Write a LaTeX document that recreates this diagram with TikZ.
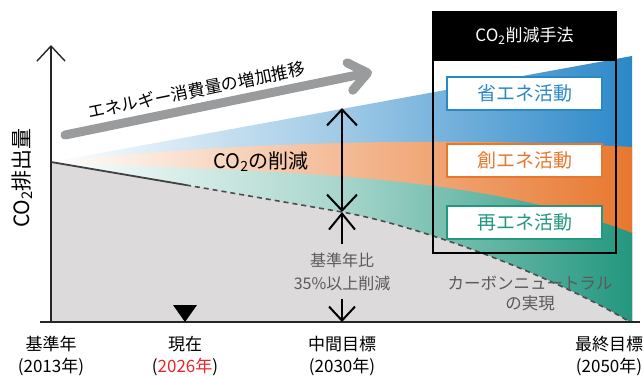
\documentclass[tikz,border=0pt]{standalone}
\usepackage{fontspec}
\setmainfont{Noto Sans CJK JP}
\usetikzlibrary{shapes, arrows.meta, positioning}
\definecolor{savecol}{HTML}{2B88C8}
\definecolor{makecol}{HTML}{E8772E}
\definecolor{renewcol}{HTML}{23977F}
\definecolor{areagray}{HTML}{DCDADB}
\definecolor{notegray}{HTML}{5A5A5A}
\definecolor{arrowgray}{HTML}{9A9B9C}
\definecolor{nowred}{HTML}{E8262B}
\newcommand{\fsz}[2]{\fontsize{#1}{#2}\selectfont}
\newcommand{\cotwo}{CO\textsubscript{2}}
\tikzstyle{axis} = [line width=1.4pt, draw=black!85]
\tikzstyle{yearlabel} = [font=\fsz{17}{22}, align=center, inner sep=0pt]
\tikzstyle{methodbox} = [draw, line width=2pt, fill=white, minimum width=155pt, minimum height=33pt, font=\fsz{19}{22}]
\tikzstyle{reduce} = [line width=2pt, {Straight Barb[length=16pt,width=30pt]}-{Straight Barb[length=16pt,width=30pt]}]
\tikzstyle{graynote} = [text=notegray, font=\fsz{16}{23}, align=center, inner sep=0pt]

\begin{document}
\begin{tikzpicture}[x=1pt, y=-1pt]
	\useasboundingbox (0,0) rectangle (643,376);
	% puntos de la curva
	\coordinate (base) at (51,162);
	\coordinate (now) at (186,185);
	\coordinate (mid) at (342,212);
	\coordinate (goal) at (630,322);
	\coordinate (origin) at (51,322);
	% bandas
	\shade[left color=white, right color=savecol, middle color=savecol!45] (base) -- (632,56) -- (632,322) -- (origin) -- cycle;
	\shade[left color=white, right color=makecol, middle color=makecol!50] (base) .. controls (200,145) and (420,135) .. (632,147) -- (632,322) -- (origin) -- cycle;
	\shade[left color=white, right color=renewcol, middle color=renewcol!40] (base) .. controls (250,172) and (470,170) .. (632,233) -- (632,322) -- (origin) -- cycle;
	% emisiones
	\fill[areagray] (base) -- (now) -- (mid) .. controls (430,228) and (560,280) .. (goal) -- (origin) -- cycle;
	\draw[line width=1.8pt, black!75] (base) -- (now);
	\draw[line width=1.6pt, black!70, dash pattern=on 5pt off 4pt] (now) -- (mid) .. controls (430,228) and (560,280) .. (goal);
	% ejes
	\draw[axis, -{Straight Barb[length=15pt,width=28pt]}] (origin) -- (51,45);
	\draw[axis] (40,322) -- (640,322);
	\node[rotate=90, font=\fsz{21}{24}, inner sep=0pt] (ylabel) at (22,178) {\cotwo 排出量};
	% flecha de energia
	\coordinate (gtail) at (65,135);
	\coordinate (ghead) at (372,72);
	\draw[arrowgray, line width=9pt, line cap=round, -{Straight Barb[length=18pt,width=28pt,round]}] (gtail) -- node[sloped, above=5pt, pos=0.44, text=black, font=\fsz{17}{20}, inner sep=0pt] (trend) {エネルギー消費量の増加推移} (ghead);
	\node[font=\fsz{20}{24}, inner sep=0pt] (cut) at (261,162) {\cotwo の削減};
	% reduccion
	\coordinate (cuttop) at (342,108);
	\draw[reduce] (cuttop) -- (mid);
	\node[graynote, inner ysep=8pt] (ratio) at (342,271.5) {基準年比\\35\%以上削減};
	\draw[line width=2pt, {Straight Barb[length=16pt,width=26pt]}-] (mid) -- (ratio.north);
	\draw[line width=2pt, -{Straight Barb[length=14pt,width=26pt]}] (ratio.south) -- (342,322);
	\node[graynote, font=\fsz{16.5}{20}] (neutral) at (530,293) {カーボンニュートラル\\の実現};
	% marcador
	\fill (173,305) -- (197,305) -- (185,322) -- cycle;
	% años
	\node[yearlabel] (y2013) at (51,356) {基準年\\(2013年)};
	\node[yearlabel] (y2026) at (185,356) {現在\\(\textcolor{nowred}{2026年})};
	\node[yearlabel] (y2030) at (342,356) {中間目標\\(2030年)};
	\node[yearlabel] (y2050) at (609,356) {最終目標\\(2050年)};
	% metodos
	\node[draw, line width=2.2pt, minimum width=183pt, minimum height=241pt, inner sep=0pt] (methods) at (524.5,132.5) {};
	\node[fill=black, text=white, minimum width=183pt, minimum height=50pt, anchor=north, font=\fsz{17}{20}] (methodhead) at (methods.north) {\cotwo 削減手法};
	\node[methodbox, draw=savecol, text=savecol] (save) at (524.5,93.5) {省エネ活動};
	\node[methodbox, draw=makecol, text=makecol, below=32pt of save] (make) {創エネ活動};
	\node[methodbox, draw=renewcol, text=renewcol, below=27pt of make] (renew) {再エネ活動};
\end{tikzpicture}
\end{document}
